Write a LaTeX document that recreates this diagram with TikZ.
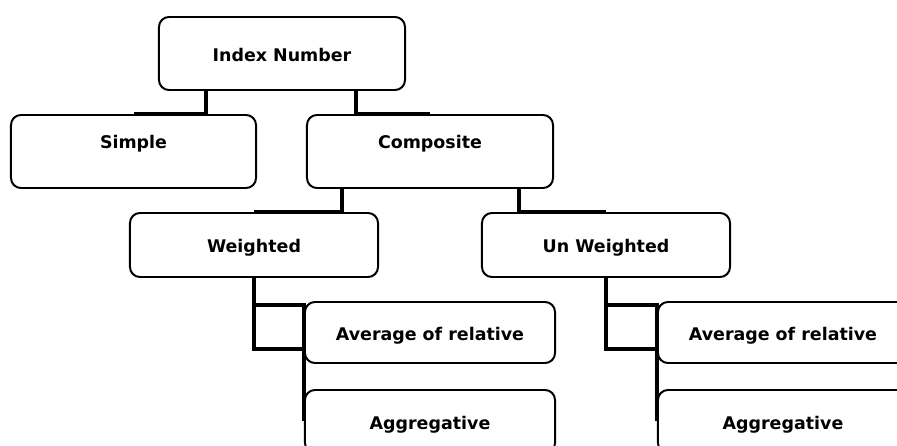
\documentclass[tikz,border=0pt]{standalone}
\usepackage{fontspec}
\setmainfont{DejaVu Sans}

\begin{document}
\begin{tikzpicture}[x=0.025cm, y=-0.025cm,
    box/.style={draw, line width=1.4pt, rounded corners=0.25cm,
      font=\bfseries\fontsize{12.4}{15}\selectfont,
      text height=0.42cm, text depth=0.04cm, inner sep=0pt},
    link/.style={line width=3.5pt}]

  \useasboundingbox (0,0) rectangle (897,446);
  \clip (0,0) rectangle (897,446);

  % Index Number
  \node[box, minimum width=6.15cm, minimum height=1.825cm] (idx) at (282,53.5) {Index Number};

  % Simple en Composite
  \node[box, minimum width=6.125cm, minimum height=1.825cm, text depth=0.56cm] (simple) at (133.5,151.5) {Simple};
  \node[box, minimum width=6.15cm, minimum height=1.825cm, text depth=0.56cm] (comp) at (430,151.5) {Composite};

  % Weighted en Un Weighted
  \node[box, minimum width=6.2cm, minimum height=1.6cm] (wtd) at (254,245) {Weighted};
  \node[box, minimum width=6.2cm, minimum height=1.6cm] (unw) at (606,245) {Un Weighted};

  % onder Weighted
  \node[box, minimum width=6.25cm, minimum height=1.525cm] (avg1) at (430,332.5) {Average of relative};
  \node[box, minimum width=6.25cm, minimum height=1.575cm] (agg1) at (430,421.5) {Aggregative};

  % onder Un Weighted
  \node[box, minimum width=6.25cm, minimum height=1.525cm] (avg2) at (783,332.5) {Average of relative};
  \node[box, minimum width=6.25cm, minimum height=1.575cm] (agg2) at (783,421.5) {Aggregative};

  % lijnen vanaf Index Number
  \draw[link] ([xshift=1.2cm]idx.south west) |- (simple.north);
  \draw[link] ([xshift=-1.25cm]idx.south east) |- (comp.north);

  % lijnen vanaf Composite
  \draw[link] ([xshift=0.9cm]comp.south west) |- (wtd.north);
  \draw[link] ([xshift=-0.875cm]comp.south east) |- (unw.north);

  % lijnen vanaf Weighted
  \coordinate (wa) at ([yshift=-0.1cm]avg1.north west);
  \coordinate (wb) at ([yshift=0.375cm]avg1.south west);
  \draw[link] (wtd.south) |- (wb) -- (agg1.west);
  \draw[link] (wtd.south |- wa) -- (wa) -- (wb);

  % lijnen vanaf Un Weighted
  \coordinate (ua) at ([yshift=-0.1cm]avg2.north west);
  \coordinate (ub) at ([yshift=0.375cm]avg2.south west);
  \draw[link] (unw.south) |- (ub) -- (agg2.west);
  \draw[link] (unw.south |- ua) -- (ua) -- (ub);

\end{tikzpicture}
\end{document}
